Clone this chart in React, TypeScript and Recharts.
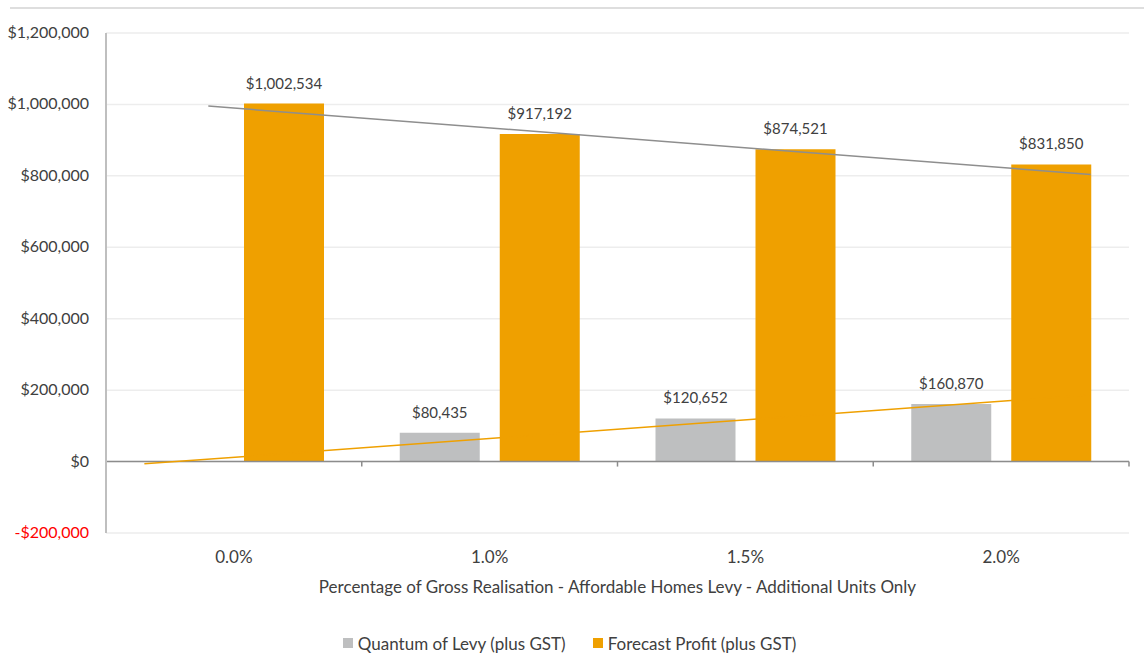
import React from 'react';
import { ComposedChart, Bar, Line, XAxis, YAxis, CartesianGrid, LabelList, Legend, ReferenceLine } from 'recharts';

const categories = ['0.0%', '1.0%', '1.5%', '2.0%'];
const levyValues = [0, 80435, 120652, 160870];
const profitValues = [1002534, 917192, 874521, 831850];
const yTicks = [-200000, 0, 200000, 400000, 600000, 800000, 1000000, 1200000];
const levyName = 'Quantum of Levy (plus GST)';
const profitName = 'Forecast Profit (plus GST)';
const xTitle = 'Percentage of Gross Realisation - Affordable Homes Levy - Additional Units Only';
// trendline extents, in category-index units (1 = first category)
const levyTrendRange = [0.65, 4.35];
const profitTrendRange = [0.9, 4.35];

const LEVY_COLOR = '#BEBFC0';
const PROFIT_COLOR = '#EFA000';
const FONT = 'Lato, "Open Sans", sans-serif';
const AXIS_FS = 17;
const YTICK_FS = 16;
const LABEL_FS = 15;

function linReg(values: number[]) {
  const n = values.length;
  const xs = values.map((_, i) => i + 1);
  const mx = xs.reduce((a, b) => a + b, 0) / n;
  const my = values.reduce((a, b) => a + b, 0) / n;
  let num = 0;
  let den = 0;
  xs.forEach((x, i) => {
    num += (x - mx) * (values[i] - my);
    den += (x - mx) * (x - mx);
  });
  const slope = num / den;
  return (x: number) => my + slope * (x - mx);
}

const levyFit = linReg(levyValues);
const profitFit = linReg(profitValues);

const data = categories.map((c, i) => ({ cat: c, idx: i + 1, levy: levyValues[i], profit: profitValues[i] }));
const levyTrend = levyTrendRange.map((x) => ({ idx: x, levyTrend: levyFit(x) }));
const profitTrend = profitTrendRange.map((x) => ({ idx: x, profitTrend: profitFit(x) }));

const fmt = (v: number) => (v < 0 ? '-$' : '$') + Math.abs(v).toLocaleString('en-US');

const YTick = (props: any) => {
  const { x, y, payload } = props;
  const v = payload.value as number;
  return (
    <text x={x} y={y} dy={5} textAnchor="end" fill={v < 0 ? '#FF0000' : '#404040'} fontSize={YTICK_FS} fontFamily={FONT}>
      {fmt(v)}
    </text>
  );
};

const XTick = (props: any) => {
  const { x, y, payload } = props;
  return (
    <text x={x} y={y} dy={18} textAnchor="middle" fill="#404040" fontSize={AXIS_FS} fontFamily={FONT}>
      {payload.value}
    </text>
  );
};

const ZeroLine = (p: any) => {
  const { x1, y1, x2 } = p;
  const n = categories.length;
  const step = (x2 - x1) / n;
  const ticks = [];
  for (let k = 0; k <= n; k++) {
    const tx = x1 + k * step;
    ticks.push(<line key={k} x1={tx} x2={tx} y1={y1} y2={y1 + 5} stroke="#8C8C8C" strokeWidth={1.5} />);
  }
  return (
    <g>
      <line x1={x1} x2={x2} y1={y1} y2={y1} stroke="#8C8C8C" strokeWidth={1.5} />
      {ticks}
    </g>
  );
};

const LegendContent = () => (
  <div style={{ height: 56, paddingTop: 36, boxSizing: 'border-box', display: 'flex', justifyContent: 'center', alignItems: 'center', gap: 27, fontFamily: FONT, fontSize: AXIS_FS, color: '#404040' }}>
    {[
      { name: levyName, color: LEVY_COLOR },
      { name: profitName, color: PROFIT_COLOR },
    ].map((it) => (
      <div key={it.name} style={{ display: 'flex', alignItems: 'center', height: 20 }}>
        <span style={{ display: 'inline-block', width: 10, height: 10, background: it.color, marginRight: 5 }} />
        <span>{it.name}</span>
      </div>
    ))}
  </div>
);

export default function App() {
  return (
    <div style={{ position: 'absolute', left: 0, top: 0, width: 1144, height: 670, background: '#fff' }}>
      <div style={{ position: 'absolute', left: 10, top: 7, width: 1134, height: 2, background: '#DEDEDE' }} />
      <div style={{ position: 'absolute', left: 0, top: 0 }}>
        <ComposedChart
          width={1144}
          height={670}
          data={data}
          margin={{ top: 33, right: 15, left: 10, bottom: 17 }}
          barSize={80}
          barGap={20}
        >
          <CartesianGrid vertical={false} stroke="#EDEDED" strokeWidth={1.5} />
          <XAxis
            xAxisId="cat"
            dataKey="cat"
            type="category"
            height={64}
            axisLine={false}
            tickLine={false}
            tickMargin={6}
            tick={<XTick />}
            label={{ value: xTitle, position: 'insideBottom', offset: 4, fill: '#404040', fontSize: AXIS_FS, fontFamily: FONT }}
          />
          <XAxis xAxisId="num" dataKey="idx" type="number" domain={[0.5, 4.5]} hide allowDataOverflow />
          <YAxis
            width={96}
            domain={[-200000, 1200000]}
            ticks={yTicks}
            interval={0}
            axisLine={{ stroke: '#BFBFBF', strokeWidth: 2 }}
            tickLine={false}
            tickMargin={11}
            tick={<YTick />}
          />
          <ReferenceLine y={0} xAxisId="cat" shape={<ZeroLine />} />
          <Bar xAxisId="cat" dataKey="levy" name={levyName} fill={LEVY_COLOR} isAnimationActive={false}>
            <LabelList dataKey="levy" position="top" offset={15} formatter={(v: any) => fmt(Number(v))} fill="#404040" fontSize={LABEL_FS} fontFamily={FONT} />
          </Bar>
          <Bar xAxisId="cat" dataKey="profit" name={profitName} fill={PROFIT_COLOR} isAnimationActive={false}>
            <LabelList dataKey="profit" position="top" offset={15} formatter={(v: any) => fmt(Number(v))} fill="#404040" fontSize={LABEL_FS} fontFamily={FONT} />
          </Bar>
          <Line
            xAxisId="num"
            data={levyTrend}
            dataKey="levyTrend"
            stroke="#EFA000"
            strokeWidth={1.5}
            dot={false}
            activeDot={false}
            legendType="none"
            isAnimationActive={false}
          />
          <Line
            xAxisId="num"
            data={profitTrend}
            dataKey="profitTrend"
            stroke="#8E8E8E"
            strokeWidth={1.5}
            dot={false}
            activeDot={false}
            legendType="none"
            isAnimationActive={false}
          />
          <Legend verticalAlign="bottom" content={<LegendContent />} />
        </ComposedChart>
      </div>
    </div>
  );
}
